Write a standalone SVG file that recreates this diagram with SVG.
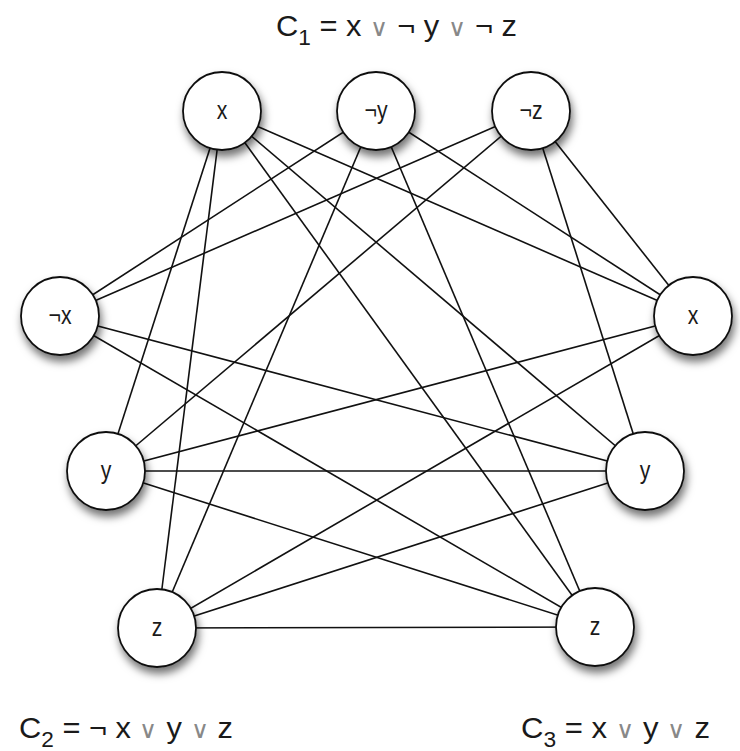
<svg xmlns="http://www.w3.org/2000/svg" width="740" height="751" viewBox="0 0 740 751">
<style>
.e{stroke:#111;stroke-width:1.6;fill:none}
.n{fill:#fff;stroke:#111;stroke-width:1.8;filter:url(#sh)}
.l{font-family:"Liberation Sans",Arial,sans-serif;font-size:25px;fill:#1a1a1a;text-anchor:middle}
.t{font-family:"Liberation Sans",Arial,sans-serif;font-size:30px;fill:#1a1a1a}
.o{fill:#888;font-size:24px}
</style>
<defs>
<filter id="sh" x="-40%" y="-40%" width="190%" height="190%">
<feDropShadow dx="2" dy="6" stdDeviation="4" flood-color="#000" flood-opacity="0.55"/>
</filter>
</defs>
<rect width="740" height="751" fill="#fff"/>
<g id="connectors">
<line class="e" x1="222" y1="111" x2="106" y2="471"/>
<line class="e" x1="222" y1="111" x2="157" y2="628"/>
<line class="e" x1="222" y1="111" x2="693" y2="316"/>
<line class="e" x1="222" y1="111" x2="645" y2="471"/>
<line class="e" x1="222" y1="111" x2="595" y2="627"/>
<line class="e" x1="376" y1="111" x2="60" y2="316"/>
<line class="e" x1="376" y1="111" x2="157" y2="628"/>
<line class="e" x1="376" y1="111" x2="693" y2="316"/>
<line class="e" x1="376" y1="111" x2="595" y2="627"/>
<line class="e" x1="531" y1="111" x2="60" y2="316"/>
<line class="e" x1="531" y1="111" x2="106" y2="471"/>
<line class="e" x1="531" y1="111" x2="693" y2="316"/>
<line class="e" x1="531" y1="111" x2="645" y2="471"/>
<line class="e" x1="60" y1="316" x2="645" y2="471"/>
<line class="e" x1="60" y1="316" x2="595" y2="627"/>
<line class="e" x1="106" y1="471" x2="693" y2="316"/>
<line class="e" x1="106" y1="471" x2="645" y2="471"/>
<line class="e" x1="106" y1="471" x2="595" y2="627"/>
<line class="e" x1="157" y1="628" x2="693" y2="316"/>
<line class="e" x1="157" y1="628" x2="645" y2="471"/>
<line class="e" x1="157" y1="628" x2="595" y2="627"/>
</g>
<g id="c1x"><circle class="n" cx="222" cy="111" r="39"/><text class="l" transform="translate(222 119) scale(0.85 1)">x</text></g>
<g id="c1ny"><circle class="n" cx="376" cy="111" r="39"/><text class="l" transform="translate(376 119) scale(0.85 1)">¬y</text></g>
<g id="c1nz"><circle class="n" cx="531" cy="111" r="39"/><text class="l" transform="translate(531 119) scale(0.85 1)">¬z</text></g>
<g id="c2nx"><circle class="n" cx="60" cy="316" r="39"/><text class="l" transform="translate(60 324) scale(0.85 1)">¬x</text></g>
<g id="c2y"><circle class="n" cx="106" cy="471" r="39"/><text class="l" transform="translate(106 479) scale(0.85 1)">y</text></g>
<g id="c2z"><circle class="n" cx="157" cy="628" r="39"/><text class="l" transform="translate(157 636) scale(0.85 1)">z</text></g>
<g id="c3x"><circle class="n" cx="693" cy="316" r="39"/><text class="l" transform="translate(693 324) scale(0.85 1)">x</text></g>
<g id="c3y"><circle class="n" cx="645" cy="471" r="39"/><text class="l" transform="translate(645 479) scale(0.85 1)">y</text></g>
<g id="c3z"><circle class="n" cx="595" cy="627" r="39"/><text class="l" transform="translate(595 635) scale(0.85 1)">z</text></g>
<g id="labels">
<text class="t" x="276" y="36" textLength="241" lengthAdjust="spacingAndGlyphs">C<tspan font-size="22" dy="9">1</tspan><tspan dy="-9"> = x </tspan><tspan class="o">∨</tspan> ¬ y <tspan class="o">∨</tspan> ¬ z</text>
<text class="t" x="19" y="738" textLength="214" lengthAdjust="spacingAndGlyphs">C<tspan font-size="22" dy="9">2</tspan><tspan dy="-9"> = ¬ x </tspan><tspan class="o">∨</tspan> y <tspan class="o">∨</tspan> z</text>
<text class="t" x="521" y="738" textLength="189" lengthAdjust="spacingAndGlyphs">C<tspan font-size="22" dy="9">3</tspan><tspan dy="-9"> = x </tspan><tspan class="o">∨</tspan> y <tspan class="o">∨</tspan> z</text>
</g>
</svg>
